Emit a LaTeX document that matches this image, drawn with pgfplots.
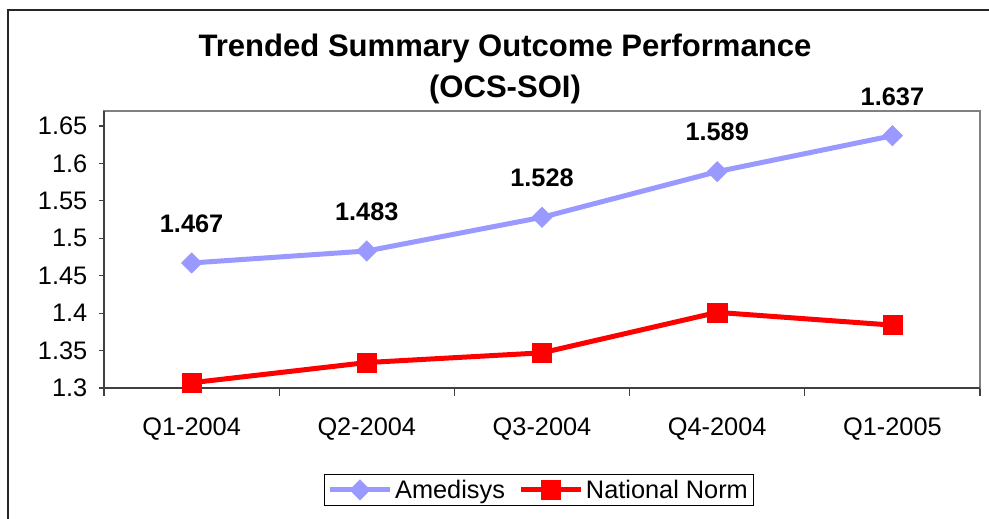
\documentclass[border=0pt]{standalone}
\usepackage{pgfplots}
\pgfplotsset{compat=1.18}
\usepackage{fontspec}
\setmainfont{Liberation Sans}
\definecolor{amed}{RGB}{153,153,255}
\definecolor{norm}{RGB}{255,0,0}
\definecolor{boxgray}{RGB}{128,128,128}
\begin{document}
\begin{tikzpicture}[x=0.75pt,y=0.75pt]
\useasboundingbox (0,0) rectangle (989,518);
\draw[line width=1.3pt, black!85] (8,-20) -- (8,508) -- (1010,508);
\node[font=\fontsize{23.3}{27}\selectfont\bfseries] at (505,470) {Trended Summary Outcome Performance};
\node[font=\fontsize{23.3}{27}\selectfont\bfseries] at (505,429) {(OCS-SOI)};
\begin{axis}[
  at={(78pt,97.5pt)}, anchor=south west,
  scale only axis, width=657pt, height=207.75pt,
  xmin=-0.5, xmax=4.5, ymin=1.3, ymax=1.67,
  xtick={0,1,2,3,4},
  xticklabels={Q1-2004,Q2-2004,Q3-2004,Q4-2004,Q1-2005},
  major x tick style={draw=none},
  minor xtick={-0.5,0.5,1.5,2.5,3.5,4.5},
  minor tick length=6pt,
  ytick={1.3,1.35,1.4,1.45,1.5,1.55,1.6,1.65},
  yticklabels={1.3,1.35,1.4,1.45,1.5,1.55,1.6,1.65},
  major tick length=4pt,
  tick align=outside,
  xtick pos=bottom, ytick pos=left,
  tick style={black!75, line width=0.8pt},
  axis line style={boxgray, line width=1.1pt},
  /pgf/number format/assume math mode=true,
  tick label style={font=\fontsize{19}{22}\selectfont},
  xticklabel shift=14.5pt,
  yticklabel shift=5pt,
  legend style={at={(0.4966,-0.368)}, anchor=center, draw=black, line width=0.8pt,
    font=\fontsize{19}{22}\selectfont, inner sep=2pt,
    /tikz/every even column/.append style={column sep=8pt}},
  legend columns=2,
  legend cell align=left,
  legend image code/.code={\draw[#1, mark repeat=2, mark phase=2] plot coordinates {(0pt,0pt) (22.5pt,0pt) (45pt,0pt)};},
  clip=false,
]
\addplot[color=amed, line width=3.75pt, mark=square*, mark size=5.4pt,
  mark options={solid, rotate=45, line width=0.4pt, fill=amed},
  nodes near coords, point meta=explicit symbolic,
  every node near coord/.style={anchor=base, yshift=23pt, font=\fontsize{19}{22}\selectfont\bfseries, text=black}]
  coordinates {(0,1.467) [1.467] (1,1.483) [1.483] (2,1.528) [1.528] (3,1.589) [1.589] (4,1.637) [1.637]};
\addlegendentry{Amedisys}
\addplot[color=norm, line width=3.75pt, mark=square*, mark size=7.2pt,
  mark options={solid, line width=0.4pt, fill=norm}]
  coordinates {(0,1.307) (1,1.334) (2,1.347) (3,1.401) (4,1.384)};
\addlegendentry{National Norm}
\draw[black!75, line width=1.1pt] (rel axis cs:0,1) -- (rel axis cs:0,0) -- (rel axis cs:1,0);
\end{axis}
\end{tikzpicture}
\end{document}
